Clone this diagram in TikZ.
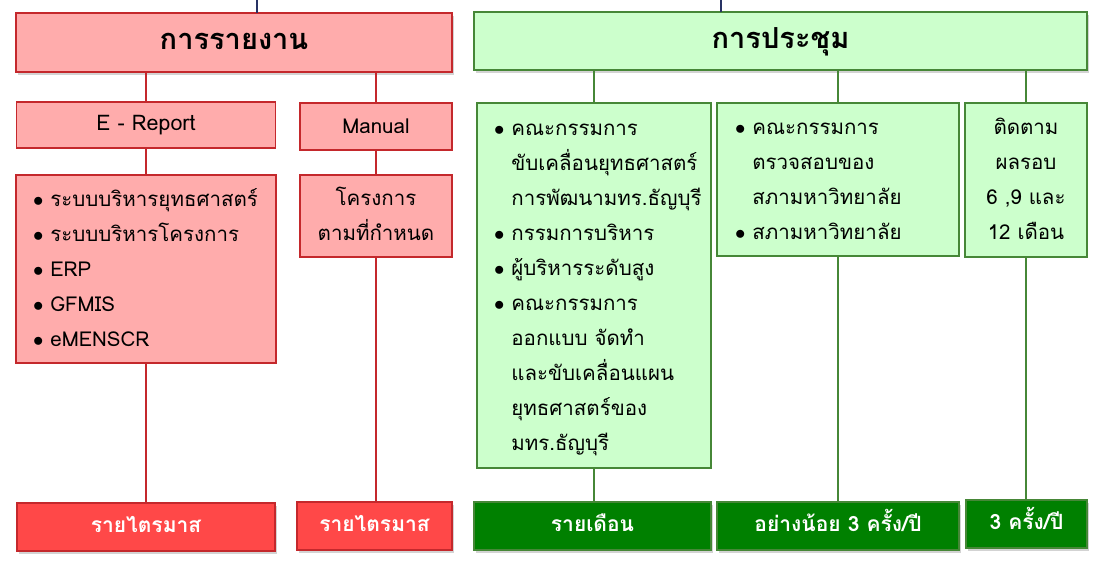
\documentclass[tikz,border=0pt]{standalone}
\usepackage{fontspec}
\setmainfont[Script=Thai]{Loma}
\usetikzlibrary{shadows}
\definecolor{pinkfill}{RGB}{255,172,172}
\definecolor{redrim}{RGB}{196,40,44}
\definecolor{redbase}{RGB}{255,72,72}
\definecolor{mintfill}{RGB}{204,255,204}
\definecolor{greenrim}{RGB}{70,135,55}
\definecolor{greenbase}{RGB}{0,128,0}
\definecolor{navyline}{RGB}{40,50,100}
\newcommand\dotrow{$\bullet$}

\begin{document}
\begin{tikzpicture}[x=1pt,y=-1pt,font=\fontsize{20.5}{35}\selectfont,
  box/.style={draw,line width=1.5pt,inner sep=0pt,outer sep=0pt},
  redbox/.style={box,draw=redrim,fill=pinkfill},
  greenbox/.style={box,draw=greenrim,fill=mintfill},
  shade/.style={drop shadow={shadow xshift=2pt,shadow yshift=-3pt,opacity=.35}},
  headtext/.style={font=\fontsize{29}{32}\selectfont\bfseries,text height=21pt,text depth=7pt},
  basetext/.style={font=\fontsize{21}{30}\selectfont\bfseries,text=white,text height=15pt,text depth=5pt},
  redlink/.style={draw=redrim,line width=1.3pt},
  greenlink/.style={draw=greenrim,line width=1.3pt}]
\useasboundingbox (0,0) rectangle (1097,563);
% heads
\node[redbox,shade,headtext,minimum width=436pt,minimum height=59pt] (report) at (234,42.5) {การรายงาน};
\node[greenbox,shade,headtext,minimum width=613pt,minimum height=58pt] (meet) at (780.5,41) {การประชุม};
\coordinate (upL) at (257,0);
\coordinate (upR) at (721,0);
\draw[navyline,line width=1.3pt] (upL) -- (upL |- report.north);
\draw[navyline,line width=1.3pt] (upR) -- (upR |- meet.north);
% reporting side
\node[redbox,font=\fontsize{21.5}{35}\selectfont,minimum width=259pt,minimum height=46pt] (erep) at (146,125) {E - Report};
\node[redbox,minimum width=152pt,minimum height=47pt] (manual) at (376,126.5) {Manual};
\node[redbox,minimum width=260pt,minimum height=188pt,text width=226pt,inner xsep=17pt,align=left] (sys) at (146,269) {%
\begin{tabular}{@{}l@{\hspace{7pt}}l@{}}
\dotrow & ระบบบริหารยุทธศาสตร์\\
\dotrow & ระบบบริหารโครงการ\\
\dotrow & ERP\\
\dotrow & GFMIS\\
\dotrow & eMENSCR
\end{tabular}};
\node[redbox,minimum width=152pt,minimum height=82pt] (proj) at (376,216) {%
\begin{tabular}{@{}c@{}}
โครงการ\\
ตามที่กำหนด
\end{tabular}};
\node[box,shade,basetext,draw=redrim,fill=redbase,minimum width=258pt,minimum height=48pt] (qtrA) at (146,527) {รายไตรมาส};
\node[box,shade,basetext,draw=redrim,fill=redbase,minimum width=155pt,minimum height=48pt] (qtrB) at (374.5,526) {รายไตรมาส};
\draw[redlink] (report.south -| erep) -- (erep.north);
\draw[redlink] (report.south -| manual) -- (manual.north);
\draw[redlink] (erep.south) -- (sys.north);
\draw[redlink] (manual.south) -- (proj.north);
\draw[redlink] (sys.south) -- (sys.south |- qtrA.north);
\draw[redlink] (proj.south) -- (proj.south |- qtrB.north);
% meeting side
\node[greenbox,minimum width=234pt,minimum height=365pt,text width=200pt,inner xsep=17pt,align=left] (board) at (594,285.5) {%
\begin{tabular}{@{}l@{\hspace{7pt}}l@{}}
\dotrow & คณะกรรมการ\\
 & ขับเคลื่อนยุทธศาสตร์\\
 & การพัฒนามทร.ธัญบุรี\\
\dotrow & กรรมการบริหาร\\
\dotrow & ผู้บริหารระดับสูง\\
\dotrow & คณะกรรมการ\\
 & ออกแบบ จัดทำ\\
 & และขับเคลื่อนแผน\\
 & ยุทธศาสตร์ของ\\
 & มทร.ธัญบุรี
\end{tabular}};
\node[greenbox,minimum width=242pt,minimum height=153pt,text width=206pt,inner xsep=18pt,align=left] (council) at (838,179.5) {%
\begin{tabular}{@{}l@{\hspace{7pt}}l@{}}
\dotrow & คณะกรรมการ\\
 & ตรวจสอบของ\\
 & สภามหาวิทยาลัย\\
\dotrow & สภามหาวิทยาลัย
\end{tabular}};
\node[greenbox,minimum width=122pt,minimum height=154pt] (follow) at (1026,180) {%
\begin{tabular}{@{}c@{}}
ติดตาม\\
ผลรอบ\\
6 ,9 และ\\
12 เดือน
\end{tabular}};
\node[box,shade,basetext,draw=greenrim,fill=greenbase,minimum width=237pt,minimum height=48pt] (monthly) at (592.5,526) {รายเดือน};
\node[box,shade,basetext,draw=greenrim,fill=greenbase,minimum width=242pt,minimum height=48pt] (atleast) at (838,526) {อย่างน้อย 3 ครั้ง/ปี};
\node[box,shade,basetext,draw=greenrim,fill=greenbase,minimum width=121pt,minimum height=48pt] (thrice) at (1026.5,524) {3 ครั้ง/ปี};
\draw[greenlink] (meet.south -| board) -- (board.north);
\draw[greenlink] (meet.south -| council) -- (council.north);
\draw[greenlink] (meet.south -| follow) -- (follow.north);
\draw[greenlink] (board.south) -- (board.south |- monthly.north);
\draw[greenlink] (council.south) -- (council.south |- atleast.north);
\draw[greenlink] (follow.south) -- (follow.south |- thrice.north);
\end{tikzpicture}
\end{document}
